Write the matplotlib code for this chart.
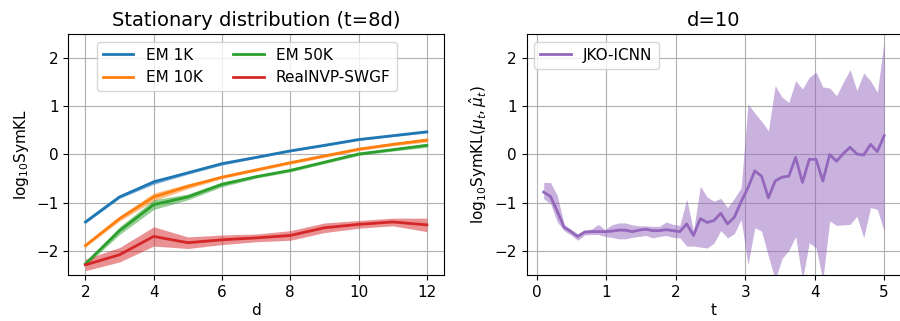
import numpy as np
import matplotlib
matplotlib.use("Agg")
import matplotlib.pyplot as plt

plt.rcParams["font.size"] = 11

# ---- Left panel data ----
d = [2, 3, 4, 5, 6, 7, 8, 9, 10, 11, 12]
em1k = [-1.40, -0.88, -0.57, -0.38, -0.19, -0.06, 0.075, 0.19, 0.31, 0.39, 0.47]
em1k_sd = [0.03, 0.03, 0.05, 0.03, 0.03, 0.02, 0.02, 0.02, 0.02, 0.02, 0.02]
em10k = [-1.89, -1.33, -0.88, -0.66, -0.47, -0.32, -0.17, -0.03, 0.11, 0.21, 0.30]
em10k_sd = [0.03, 0.05, 0.08, 0.05, 0.03, 0.03, 0.03, 0.03, 0.03, 0.03, 0.04]
em50k = [-2.27, -1.58, -1.04, -0.88, -0.62, -0.46, -0.33, -0.16, 0.01, 0.10, 0.19]
em50k_sd = [0.04, 0.08, 0.10, 0.06, 0.05, 0.03, 0.03, 0.03, 0.03, 0.03, 0.04]
nvp = [-2.29, -2.08, -1.70, -1.83, -1.77, -1.73, -1.68, -1.52, -1.45, -1.40, -1.46]
nvp_sd = [0.12, 0.15, 0.20, 0.12, 0.10, 0.08, 0.10, 0.10, 0.08, 0.08, 0.14]

# ---- Right panel data ----
t = [0.1, 0.198, 0.296, 0.394, 0.492, 0.59, 0.688, 0.786, 0.884, 0.982,
     1.08, 1.178, 1.276, 1.374, 1.472, 1.57, 1.668, 1.766, 1.864, 1.962,
     2.06, 2.158, 2.256, 2.354, 2.452, 2.55, 2.648, 2.746, 2.844, 2.942,
     3.04, 3.138, 3.236, 3.334, 3.432, 3.53, 3.628, 3.726, 3.824, 3.922,
     4.02, 4.118, 4.216, 4.314, 4.412, 4.51, 4.608, 4.706, 4.804, 4.902, 5.0]
jko = [-0.78, -0.87, -1.18, -1.51, -1.60, -1.70, -1.61, -1.60, -1.60, -1.60,
       -1.59, -1.57, -1.57, -1.60, -1.57, -1.55, -1.58, -1.58, -1.56, -1.58,
       -1.60, -1.44, -1.68, -1.33, -1.41, -1.37, -1.22, -1.44, -1.30, -0.98,
       -0.69, -0.34, -0.45, -0.90, -0.55, -0.47, -0.45, -0.06, -0.58, -0.10,
       -0.10, -0.55, 0.00, -0.14, 0.02, 0.15, 0.01, -0.01, 0.21, 0.06, 0.39]
jko_hi = [-0.58, -0.58, -0.85, -1.45, -1.55, -1.65, -1.57, -1.55, -1.45, -1.56,
          -1.46, -1.42, -1.42, -1.46, -1.48, -1.48, -1.49, -1.49, -1.40, -1.45,
          -1.47, -0.92, -1.58, -0.66, -0.88, -0.97, -0.91, -1.10, -0.91, -0.69,
          1.05, 0.86, 0.69, 0.49, 1.43, 1.19, 1.08, 1.53, 1.36, 1.60,
          1.71, 1.40, 1.38, 1.22, 1.50, 1.76, 1.33, 1.69, 1.53, 1.29, 2.35]
jko_lo = [-0.92, -1.02, -1.40, -1.58, -1.67, -1.78, -1.67, -1.66, -1.66, -1.70,
          -1.72, -1.75, -1.75, -1.72, -1.70, -1.68, -1.73, -1.70, -1.68, -1.72,
          -1.73, -1.90, -1.90, -1.92, -1.94, -1.84, -1.58, -1.73, -1.64, -1.35,
          -2.29, -1.52, -1.59, -2.11, -2.60, -2.16, -1.99, -1.70, -2.60, -1.83,
          -1.94, -2.60, -1.38, -1.47, -1.46, -1.45, -1.28, -1.73, -1.10, -1.14, -1.59]

fig = plt.figure(figsize=(9.0, 3.21), dpi=100)
ax1 = fig.add_axes([0.0759, 0.1433, 0.4174, 0.7508])
ax2 = fig.add_axes([0.5852, 0.1433, 0.4161, 0.7508])

series = [("EM 1K", em1k, em1k_sd, "tab:blue"),
          ("EM 10K", em10k, em10k_sd, "tab:orange"),
          ("EM 50K", em50k, em50k_sd, "tab:green"),
          ("RealNVP-SWGF", nvp, nvp_sd, "tab:red")]
for name, m, s, c in series:
    m = np.array(m); s = np.array(s)
    ax1.plot(d, m, color=c, lw=2, label=name)
    ax1.fill_between(d, m - s, m + s, color=c, alpha=0.5, lw=0)

ax1.set_ylim(-2.5, 2.5)
ax1.set_xticks([2, 4, 6, 8, 10, 12])
ax1.set_yticks([-2, -1, 0, 1, 2])
ax1.grid(True)
ax1.set_axisbelow(True)
ax1.set_title("Stationary distribution (t=8d)", fontsize=14)
ax1.set_xlabel("d", labelpad=2)
ax1.set_ylabel(r"$\mathrm{log}_{10}\mathrm{SymKL}$")
ax1.legend(ncol=2, loc="upper center", bbox_to_anchor=(0.475, 1.0))

ax2.plot(t, jko, color="tab:purple", lw=2, label="JKO-ICNN")
ax2.fill_between(t, jko_lo, jko_hi, color="tab:purple", alpha=0.5, lw=0)
ax2.set_ylim(-2.5, 2.5)
ax2.set_yticks([-2, -1, 0, 1, 2])
ax2.set_xticks([0, 1, 2, 3, 4, 5])
ax2.grid(True)
ax2.set_axisbelow(True)
ax2.set_title("d=10", fontsize=14)
ax2.set_xlabel("t", labelpad=2)
ax2.set_ylabel(r"$\mathrm{log}_{10}\mathrm{SymKL}(\mu_t,\hat{\mu}_t)$")
ax2.legend(loc="upper left")

fig.savefig("out.png", dpi=100)
